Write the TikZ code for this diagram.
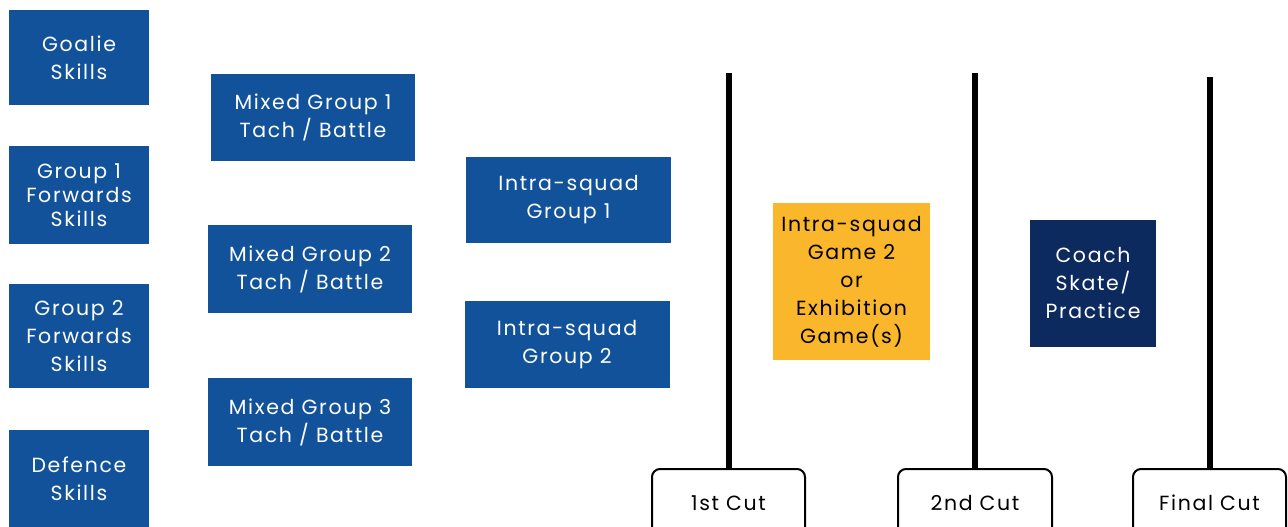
\documentclass[tikz,border=0pt]{standalone}
\usepackage{fontspec}
\setmainfont[LetterSpace=8]{Poppins}
\definecolor{squadblue}{HTML}{11529B}
\definecolor{coachnavy}{HTML}{0C2A5E}
\definecolor{gameyellow}{HTML}{FBB72C}
\tikzset{
  blockbox/.style={fill=squadblue, text=white, align=center, inner sep=0pt,
    font=\fontsize{20.5}{28}\selectfont},
  cutbox/.style={draw=black, line width=2pt, rounded corners=8pt, fill=white,
    anchor=north, minimum height=68pt, inner sep=0pt, font=\fontsize{20.5}{28}\selectfont},
  cutline/.style={line width=6pt, black},
}
\begin{document}
\begin{tikzpicture}[x=1pt, y=-1pt]
  \useasboundingbox[fill=white] (0,0) rectangle (1288,527);
  % skills column
  \node[blockbox, minimum width=140pt, minimum height=95pt] (goalie) at (79,57.5) {Goalie\\Skills};
  \node[blockbox, minimum width=140pt, minimum height=98pt, font=\fontsize{20.5}{24}\selectfont] (fwd1) at (79,195) {Group 1\\Forwards\\Skills};
  \node[blockbox, minimum width=140pt, minimum height=104pt] (fwd2) at (79,336) {Group 2\\Forwards\\Skills};
  \node[blockbox, minimum width=140pt, minimum height=98pt] (defence) at (79,479) {Defence\\Skills};
  % mixed groups
  \node[blockbox, minimum width=204pt, minimum height=87pt] (mixed1) at (313,117.5) {Mixed Group 1\\Tach / Battle};
  \node[blockbox, minimum width=204pt, minimum height=88pt] (mixed2) at (310,269) {Mixed Group 2\\Tach / Battle};
  \node[blockbox, minimum width=204pt, minimum height=88pt] (mixed3) at (310,422) {Mixed Group 3\\Tach / Battle};
  % intra-squad
  \node[blockbox, minimum width=205pt, minimum height=86pt] (squad1) at (568.5,200) {Intra-squad\\Group 1};
  \node[blockbox, minimum width=205pt, minimum height=87pt] (squad2) at (567,344.5) {Intra-squad\\Group 2};
  \node[blockbox, fill=gameyellow, text=black, minimum width=157pt, minimum height=157pt] (game2) at (851.5,281.5) {Intra-squad\\Game 2\\or\\Exhibition\\Game(s)};
  \node[blockbox, fill=coachnavy, minimum width=126pt, minimum height=127pt] (coach) at (1093,283.5) {Coach\\Skate/\\Practice};
  % cuts
  \node[cutbox, minimum width=153pt] (cut1) at (728.5,468) {1st Cut};
  \node[cutbox, minimum width=154pt] (cut2) at (975,468) {2nd Cut};
  \node[cutbox, minimum width=153pt] (cut3) at (1209.5,468) {Final Cut};
  \coordinate (top1) at (728.5,73);
  \coordinate (top2) at (975,73);
  \coordinate (top3) at (1209.5,77);
  \draw[cutline] (cut1.north) -- (top1);
  \draw[cutline] (cut2.north) -- (top2);
  \draw[cutline] (cut3.north) -- (top3);
\end{tikzpicture}
\end{document}
